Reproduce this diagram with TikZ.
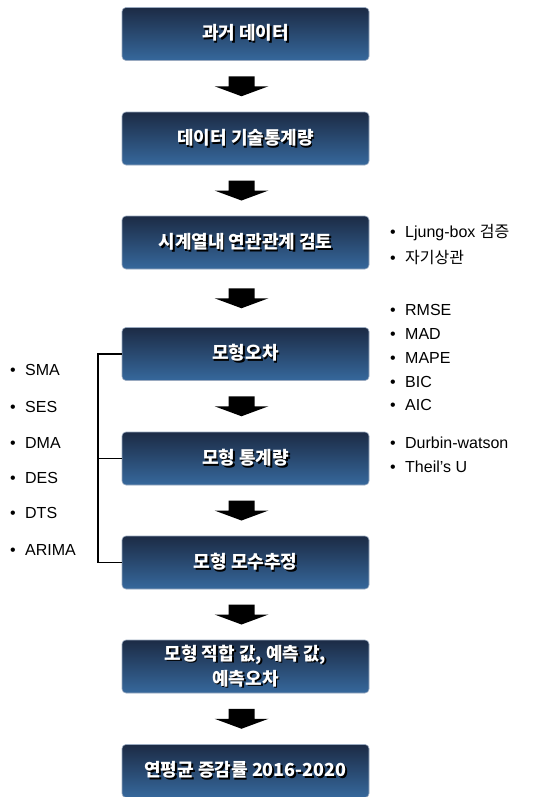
\documentclass[tikz,border=0pt]{standalone}
\usepackage{fontspec}
\setmainfont{Liberation Sans}
\newfontfamily\kr{Noto Sans CJK KR}
\usetikzlibrary{calc}
\definecolor{boxtop}{HTML}{1C2B45}
\definecolor{boxbot}{HTML}{36689C}
\definecolor{boxedge}{HTML}{9AAAC0}
\newcommand\bul{\makebox[15bp][l]{•}}
\newcommand\sh[1]{\makebox[0pt][l]{\hspace{1.6bp}\raisebox{-1.6bp}{\color{black}#1}}#1}
\tikzset{
  flowbox/.style={rectangle, rounded corners=4bp, minimum width=247bp, minimum height=53bp,
    top color=boxtop, bottom color=boxbot, draw=boxedge, line width=0.6bp, inner sep=0pt},
  boxtxt/.style={text=white, font=\kr\bfseries\fontsize{18bp}{25bp}\selectfont, align=center, inner sep=0pt},
  item/.style={anchor=west, inner sep=0pt, font=\fontsize{16bp}{20bp}\selectfont},
  bracket/.style={line width=1.8bp, black},
  blockarrow/.style={fill=black}
}
\newcommand\flowarrow[2]{%
  \coordinate (#1#2m) at ($(#1.south)!0.5!(#2.north)+(-4,0)$);
  \fill[blockarrow] (#1#2m) ++(-13,-10) -- ++(26,0) -- ++(0,10) -- ++(14,0) -- ++(-27,10) -- ++(-27,-10) -- ++(14,0) -- cycle;}
\begin{document}
\begin{tikzpicture}[x=1bp, y=-1bp]
\useasboundingbox[fill=white] (0,0) rectangle (536,797);
\node[flowbox] (b1) at (245.5,34) {};
\node[flowbox] (b2) at (245.5,138.5) {};
\node[flowbox] (b3) at (245.5,242.5) {};
\node[flowbox] (b4) at (245.5,354) {};
\node[flowbox] (b5) at (245.5,458.5) {};
\node[flowbox] (b6) at (245.5,562.5) {};
\node[flowbox] (b7) at (245.5,666.5) {};
\node[flowbox] (b8) at (245.5,771) {};
\node[boxtxt] (b1t) at (b1.center) {\sh{과거 데이터}};
\node[boxtxt] (b2t) at (b2.center) {\sh{데이터 기술통계량}};
\node[boxtxt] (b3t) at (b3.center) {\sh{시계열내 연관관계 검토}};
\node[boxtxt] (b4t) at (b4.center) {\sh{모형오차}};
\node[boxtxt] (b5t) at (b5.center) {\sh{모형 통계량}};
\node[boxtxt] (b6t) at (b6.center) {\sh{모형 모수추정}};
\node[boxtxt] (b7t) at (b7.center) {\sh{모형 적합 값, 예측 값,}\\\sh{예측오차}};
\node[boxtxt] (b8t) at (b8.center) {\sh{연평균 증감률 2016-2020}};
\flowarrow{b1}{b2}
\flowarrow{b2}{b3}
\flowarrow{b3}{b4}
\flowarrow{b4}{b5}
\flowarrow{b5}{b6}
\flowarrow{b6}{b7}
\flowarrow{b7}{b8}
% bracket
\coordinate (brtop) at ($(b4.west)+(-24,0)$);
\coordinate (brbot) at ($(b6.west)+(-24,0)$);
\coordinate (brmid) at ($(b5.west)+(-24,0)$);
\draw[bracket] (b4.west) -- (brtop) -- (brbot) -- (b6.west);
\draw[bracket] (brmid) -- (b5.west);
% left list
\node[item] (l1) at (10,370) {\bul SMA};
\node[item] (l2) at (10,407) {\bul SES};
\node[item] (l3) at (10,443) {\bul DMA};
\node[item] (l4) at (10,478) {\bul DES};
\node[item] (l5) at (10,513) {\bul DTS};
\node[item] (l6) at (10,550) {\bul ARIMA};
% right lists
\node[item] (r1) at (390,233) {\bul Ljung-box {\kr 검증}};
\node[item] (r2) at (390,258) {\bul {\kr 자기상관}};
\node[item] (r3) at (390,310) {\bul RMSE};
\node[item] (r4) at (390,334) {\bul MAD};
\node[item] (r5) at (390,358) {\bul MAPE};
\node[item] (r6) at (390,382) {\bul BIC};
\node[item] (r7) at (390,405) {\bul AIC};
\node[item] (r8) at (390,443) {\bul Durbin-watson};
\node[item] (r9) at (390,467) {\bul Theil’s U};
\end{tikzpicture}
\end{document}
